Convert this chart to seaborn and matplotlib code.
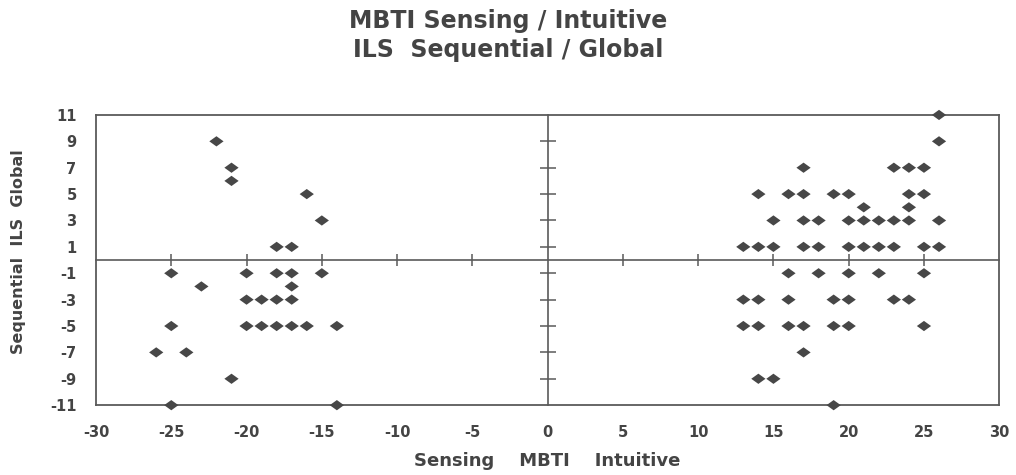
import matplotlib
matplotlib.use("Agg")
import matplotlib.pyplot as plt
from matplotlib.path import Path
import seaborn as sns
import pandas as pd

# Data: (MBTI score, ILS score)
sensing_x = [-22, -21, -21, -16, -15, -18, -17,
             -25, -23, -20, -18, -17, -17, -15,
             -20, -19, -18, -17,
             -20, -19, -18, -17, -16, -14,
             -25, -26, -24, -21, -25, -14]
sensing_y = [9, 7, 6, 5, 3, 1, 1,
             -1, -2, -1, -1, -1, -2, -1,
             -3, -3, -3, -3,
             -5, -5, -5, -5, -5, -5,
             -5, -7, -7, -9, -11, -11]

intuitive_x = [26, 26,
               17, 23, 24, 25,
               14, 16, 17, 19, 20, 24, 25,
               21, 24,
               15, 17, 18, 20, 21, 22, 23, 24, 26,
               13, 14, 15, 17, 18, 20, 21, 22, 23, 25, 26,
               16, 18, 20, 22, 25,
               13, 14, 16, 19, 20, 23, 24,
               13, 14, 16, 17, 19, 20, 25,
               17, 14, 15, 19]
intuitive_y = [11, 9,
               7, 7, 7, 7,
               5, 5, 5, 5, 5, 5, 5,
               4, 4,
               3, 3, 3, 3, 3, 3, 3, 3, 3,
               1, 1, 1, 1, 1, 1, 1, 1, 1, 1, 1,
               -1, -1, -1, -1, -1,
               -3, -3, -3, -3, -3, -3, -3,
               -5, -5, -5, -5, -5, -5, -5,
               -7, -9, -9, -11]

x_ticks = [-30, -25, -20, -15, -10, -5, 0, 5, 10, 15, 20, 25, 30]
y_ticks = [11, 9, 7, 5, 3, 1, -1, -3, -5, -7, -9, -11]

title_lines = ["MBTI Sensing / Intuitive", "ILS  Sequential / Global"]
x_label = "Sensing    MBTI    Intuitive"
y_label = "Sequential  ILS  Global"

df = pd.DataFrame({"mbti": sensing_x + intuitive_x,
                   "ils": sensing_y + intuitive_y})

sns.set_theme(style="white")
plt.rcParams["font.family"] = ["DejaVu Sans"]

text_color = "#444444"
line_color = "#5a5a5a"

fig = plt.figure(figsize=(10.16, 4.75), dpi=100)
rect = [0.0945, 0.147, 0.889, 0.611]
ax = fig.add_axes(rect)

diamond = Path([(-1.0, 0.0), (0.0, 0.72), (1.0, 0.0), (0.0, -0.72), (-1.0, 0.0)],
               [Path.MOVETO, Path.LINETO, Path.LINETO, Path.LINETO, Path.CLOSEPOLY])

sns.scatterplot(data=df, x="mbti", y="ils", ax=ax, marker=diamond, s=105,
                color="#474747", edgecolor="none", linewidth=0, clip_on=False, zorder=5)

ax.set_xlim(-30, 30)
ax.set_ylim(-11, 11)
ax.set_xticks(x_ticks)
ax.set_yticks(y_ticks)
ax.set_xticklabels([str(v) for v in x_ticks])
ax.set_yticklabels([str(v) for v in y_ticks])
ax.tick_params(axis="both", length=0, labelsize=10.5, labelcolor=text_color)
ax.tick_params(axis="x", pad=14)
ax.tick_params(axis="y", pad=14)
for lab in ax.get_xticklabels() + ax.get_yticklabels():
    lab.set_fontweight("bold")
for sp in ax.spines.values():
    sp.set_visible(True)
    sp.set_color(line_color)
    sp.set_linewidth(1.3)

ax.set_xlabel(x_label, fontsize=13, color=text_color, fontweight="bold")
ax.set_ylabel(y_label, fontsize=11.5, color=text_color, fontweight="bold")
ax.xaxis.set_label_coords(0.5, -0.16)
ax.yaxis.set_label_coords(-0.078, 0.53)

# Overlay axes providing the central crossing axes with tick marks
ax2 = fig.add_axes(rect)
ax2.set_xlim(-30, 30)
ax2.set_ylim(-11, 11)
ax2.patch.set_visible(False)
ax2.grid(False)
ax2.spines["top"].set_visible(False)
ax2.spines["right"].set_visible(False)
ax2.spines["left"].set_position(("data", 0))
ax2.spines["bottom"].set_position(("data", 0))
for s in ("left", "bottom"):
    ax2.spines[s].set_color(line_color)
    ax2.spines[s].set_linewidth(1.2)
ax2.set_xticks([v for v in x_ticks if v not in (-30, 0, 30)])
ax2.set_yticks([v for v in y_ticks if abs(v) != 11])
ax2.tick_params(axis="x", direction="inout", length=9, width=1.1, color=line_color,
                labelbottom=False, bottom=True)
ax2.tick_params(axis="y", direction="inout", length=11, width=1.1, color=line_color,
                labelleft=False, left=True)

fig.text(0.5, 1 - 21 / 475, title_lines[0], ha="center", va="center", fontsize=17,
         fontweight="bold", color=text_color)
fig.text(0.5, 1 - 50 / 475, title_lines[1], ha="center", va="center", fontsize=17,
         fontweight="bold", color=text_color)

fig.savefig("out.png", dpi=100)
